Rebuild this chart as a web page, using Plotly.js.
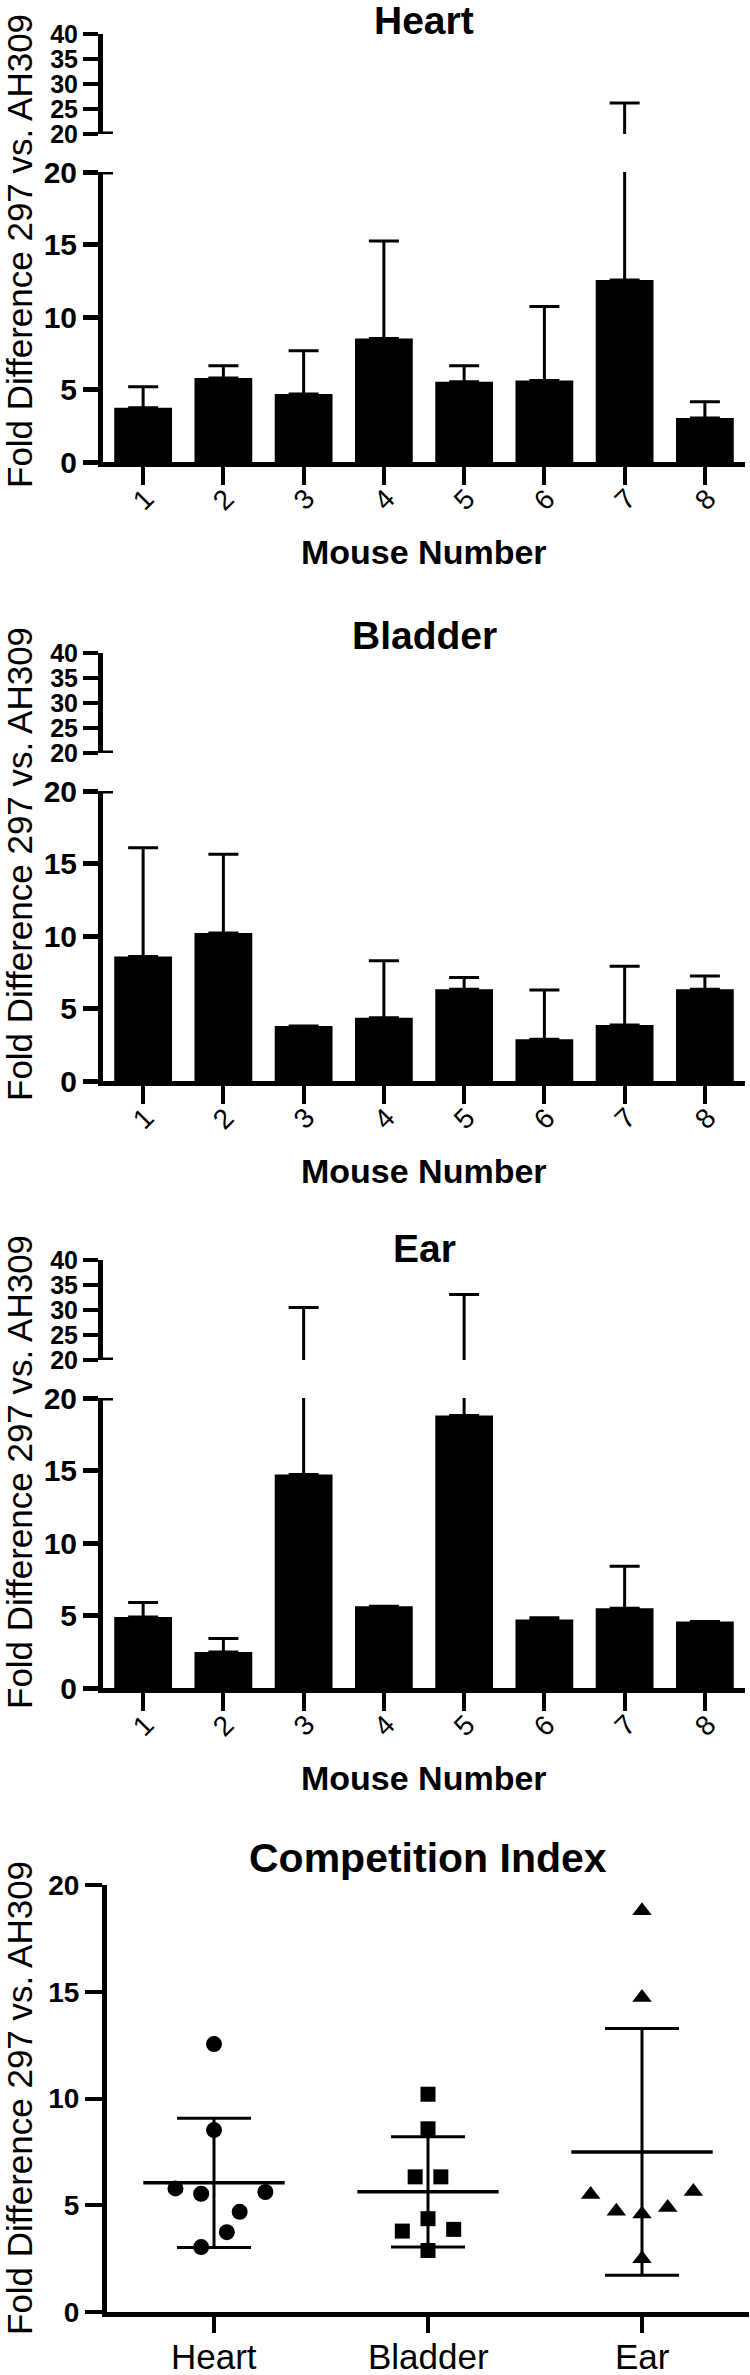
<!DOCTYPE html>
<html><head><meta charset="utf-8">
<script src="https://cdn.plot.ly/plotly-3.0.1.min.js"></script>
<style>html,body{margin:0;padding:0;background:#fff}#chart{width:750px;height:2375px}</style>
</head><body><div id="chart"></div>
<script>
// ---- data ----
const mice = ['1','2','3','4','5','6','7','8'];
const heartFold   = [3.74, 5.79, 4.69, 8.52, 5.54, 5.62, 12.55, 3.04];
const heartSD     = [1.45, 0.85, 2.98, 6.72, 1.10, 5.10, 13.65, 1.12];
const bladderFold = [8.58, 10.2, 3.79, 4.37, 6.33, 2.88, 3.87, 6.33];
const bladderSD   = [7.50, 5.43, 0.00, 3.92, 0.81, 3.39, 4.05, 0.91];
const earFold     = [4.90, 2.49, 14.73, 5.64, 18.79, 4.72, 5.50, 4.59];
const earSD       = [1.00, 0.92, 15.77, 0.00, 14.31, 0.13, 2.89, 0.00];
const tissues     = ['Heart', 'Bladder', 'Ear'];
const tissueMean  = [6.05, 5.63, 7.50];
const tissueSD    = [3.03, 2.58, 5.78];
const heartJitter   = [0.06, -0.18, 0.12, 0, -0.06, 0.24, 0, -0.06];
const bladderJitter = [0, 0, -0.12, 0, -0.06, 0, 0.12, 0.06];
const earJitter     = [0.12, 0, 0, 0.24, 0, -0.12, -0.24, 0];
const lowerTicks = [0, 5, 10, 15, 20];
const upperTicks = [20, 25, 30, 35, 40];
const panelTitles = ['Heart', 'Bladder', 'Ear'];
const yTitle = 'Fold Difference 297 vs. AH309';
const xTitle = 'Mouse Number';
const compTitle = 'Competition Index';

// ---- layout helpers ----
const W = 750, H = 2375;
const FONT = 'Liberation Sans, Arial, Helvetica, sans-serif';
const px2y = p => 1 - p / H;
const px2x = p => p / W;
const bold = arr => arr.map(v => '<b>' + v + '</b>');

const traces = [];
const layout = {
  width: W, height: H, margin: {l:0, r:0, t:0, b:0},
  paper_bgcolor: '#fff', plot_bgcolor: '#fff', showlegend: false,
  font: {family: FONT, color: '#000'}, bargap: 0.28,
  annotations: [], shapes: []
};

const panels = [
  {fold: heartFold, sd: heartSD, off: 0, titleY: 20, xTitleY: 552, yTitleY: 251},
  {fold: bladderFold, sd: bladderSD, off: 619, titleY: 635, xTitleY: 1171, yTitleY: 864},
  {fold: earFold, sd: earSD, off: 1226, titleY: 1248, xTitleY: 1778, yTitleY: 1472}
];
const xL = 103, xR = 745;

panels.forEach((p, i) => {
  const xk = i ? 'xaxis' + (i + 1) : 'xaxis';
  const xr = i ? 'x' + (i + 1) : 'x';
  const lo = 2 * i + 1, up = 2 * i + 2;
  const ylk = lo === 1 ? 'yaxis' : 'yaxis' + lo;
  const ylr = lo === 1 ? 'y' : 'y' + lo;
  const yuk = 'yaxis' + up, yur = 'y' + up;
  const upTop = 34 + p.off, upBot = 134 + p.off, loTop = 172 + p.off, loBot = 462 + p.off;

  [ylr, yur].forEach(yr => {
    traces.push({
      type: 'bar', x: mice, y: p.fold, xaxis: xr, yaxis: yr,
      marker: {color: '#000', line: {width: 0}}, hoverinfo: 'skip',
      error_y: {type: 'data', symmetric: false, array: p.sd, arrayminus: p.sd.map(() => 0),
                color: '#000', thickness: 3, width: 15}
    });
  });

  layout[xk] = {
    domain: [px2x(xL), px2x(xR)], anchor: ylr, type: 'category', range: [-0.5, 7.5],
    showline: true, linewidth: 5, linecolor: '#000', showgrid: false, zeroline: false,
    ticks: 'outside', ticklen: 18, tickwidth: 4, tickcolor: '#000', showticklabels: false
  };
  layout[ylk] = {
    domain: [px2y(loBot), px2y(loTop)], anchor: xr, range: [0, 20],
    tickvals: lowerTicks, ticktext: bold(lowerTicks), showline: true, linewidth: 5, linecolor: '#000',
    showgrid: false, zeroline: false, ticks: 'outside', ticklen: 15, tickwidth: 5, tickcolor: '#000',
    tickfont: {family: FONT, size: 30, color: '#000'}
  };
  layout[yuk] = {
    domain: [px2y(upBot), px2y(upTop)], anchor: xr, range: [20, 40],
    tickvals: upperTicks, ticktext: bold(upperTicks), showline: true, linewidth: 5, linecolor: '#000',
    showgrid: false, zeroline: false, ticks: 'outside', ticklen: 15, tickwidth: 4, tickcolor: '#000',
    tickfont: {family: FONT, size: 25, color: '#000'}
  };
  // axis-break caps extending right of the axis at 20
  [ylr, yur].forEach(yr => layout.shapes.push({
    type: 'line', xref: xr + ' domain', x0: -0.004, x1: 10 / (xR - xL), yref: yr, y0: 20, y1: 20,
    line: {color: '#000', width: 5}
  }));
  // rotated category labels (category index positions on the x axis)
  mice.forEach((m, k) => layout.annotations.push({
    text: m, xref: xr, yref: 'paper', x: k, y: px2y(499 + p.off), textangle: -45,
    xanchor: 'center', yanchor: 'middle', showarrow: false,
    font: {family: FONT, size: 28, color: '#000'}
  }));

  layout.annotations.push(
    {text: '<b>' + panelTitles[i] + '</b>', xref: 'paper', yref: 'paper', x: px2x(424), y: px2y(p.titleY),
     xanchor: 'center', yanchor: 'middle', showarrow: false,
     font: {family: FONT, size: 39, color: '#000'}},
    {text: '<b>' + xTitle + '</b>', xref: 'paper', yref: 'paper', x: px2x(424), y: px2y(p.xTitleY),
     xanchor: 'center', yanchor: 'middle', showarrow: false,
     font: {family: FONT, size: 34, color: '#000'}},
    {text: yTitle, xref: 'paper', yref: 'paper', x: px2x(19), y: px2y(p.yTitleY), textangle: -90,
     xanchor: 'center', yanchor: 'middle', showarrow: false,
     font: {family: FONT, size: 35, color: '#000'}}
  );
});

// ---- competition index panel ----
traces.push({
  type: 'scatter', mode: 'markers', x: [0, 1, 2], y: tissueMean, xaxis: 'x4', yaxis: 'y7',
  marker: {symbol: 'line-ew-open', size: 101, color: '#000', line: {width: 3.5, color: '#000'}},
  error_y: {type: 'data', array: tissueSD, color: '#000', thickness: 3, width: 37},
  hoverinfo: 'skip', cliponaxis: false
});
const pts = [
  {v: heartFold, j: heartJitter, sym: 'circle', size: 16},
  {v: bladderFold, j: bladderJitter, sym: 'square', size: 15},
  {v: earFold, j: earJitter, sym: 'triangle-up', size: 17}
];
pts.forEach((s, k) => traces.push({
  type: 'scatter', mode: 'markers', x: s.v.map((_, i) => k + s.j[i]), y: s.v,
  xaxis: 'x4', yaxis: 'y7', cliponaxis: false,
  marker: {symbol: s.sym, size: s.size, color: '#000', line: {width: 0}}
}));
layout.xaxis4 = {
  domain: [px2x(107), px2x(749)], anchor: 'y7', range: [-0.5, 2.5],
  tickvals: [0, 1, 2], showticklabels: false, showline: true, linewidth: 5, linecolor: '#000',
  showgrid: false, zeroline: false, ticks: 'outside', ticklen: 16, tickwidth: 4, tickcolor: '#000'
};
layout.yaxis7 = {
  domain: [px2y(2312), px2y(1885)], anchor: 'x4', range: [0, 20],
  tickvals: lowerTicks, ticktext: bold(lowerTicks), showline: true, linewidth: 5, linecolor: '#000',
  showgrid: false, zeroline: false, ticks: 'outside', ticklen: 17, tickwidth: 4, tickcolor: '#000',
  tickfont: {family: FONT, size: 28, color: '#000'}
};
tissues.forEach((t, k) => layout.annotations.push({
  text: t, xref: 'x4', yref: 'paper', x: k, y: px2y(2356), xanchor: 'center', yanchor: 'middle',
  showarrow: false, font: {family: FONT, size: 35, color: '#000'}
}));
layout.annotations.push(
  {text: '<b>' + compTitle + '</b>', xref: 'paper', yref: 'paper', x: px2x(428), y: px2y(1858),
   xanchor: 'center', yanchor: 'middle', showarrow: false,
   font: {family: FONT, size: 41, color: '#000'}},
  {text: yTitle, xref: 'paper', yref: 'paper', x: px2x(19), y: px2y(2098), textangle: -90,
   xanchor: 'center', yanchor: 'middle', showarrow: false,
   font: {family: FONT, size: 35, color: '#000'}}
);

Plotly.newPlot('chart', traces, layout, {staticPlot: true, displayModeBar: false});
</script>
</body></html>
